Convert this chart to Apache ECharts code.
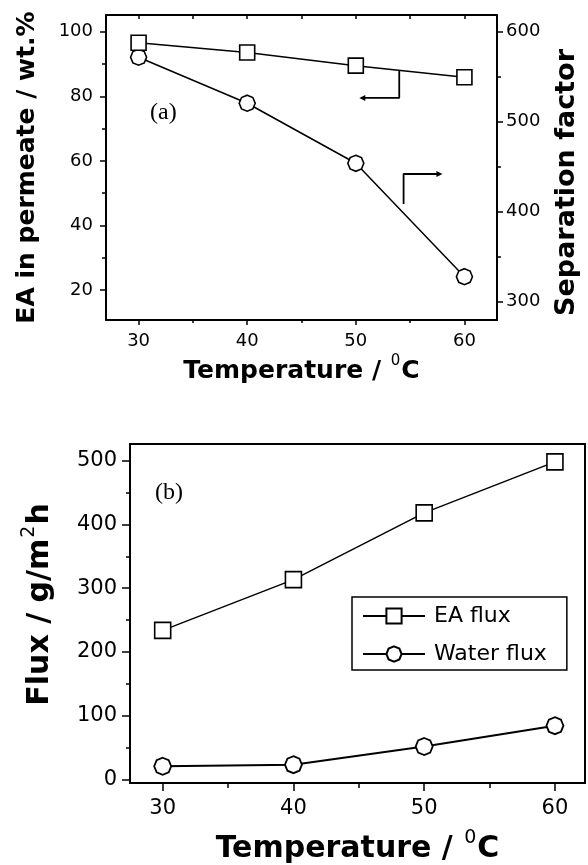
<!DOCTYPE html>
<html>
<head>
<meta charset="utf-8">
<script src="https://cdn.jsdelivr.net/npm/echarts@6/dist/echarts.min.js"></script>
<style>
  html, body { margin: 0; padding: 0; background: #fff; }
  #chart { width: 588px; height: 865px; }
</style>
</head>
<body>
<div id="chart"></div>
<script>
// Temperatures (°C) shared by both panels
const temperatures = [30, 40, 50, 60];

// Panel (a): EA content in permeate (wt.%) and separation factor
const eaPermeate = [96.6, 93.6, 89.5, 85.9];
const separationFactor = [571.6, 520.5, 453.8, 327.8];

// Panel (b): fluxes (g/m²h)
const eaFlux = [234, 313.5, 418, 498];
const waterFlux = [21, 23.5, 52, 84.6];

// Tick labels
const tempTicks = [30, 40, 50, 60];
const tempMinorTicks = [35, 45, 55];
const eaTicks = [20, 40, 60, 80, 100];
const eaMinorTicks = [30, 50, 70, 90];
const sepTicks = [300, 400, 500, 600];
const sepMinorTicks = [350, 450, 550];
const fluxTicks = [0, 100, 200, 300, 400, 500];
const fluxMinorTicks = [50, 150, 250, 350, 450];

// Axis-pointer arrows telling which axis each curve of panel (a) belongs to
const eaArrow = [[54, 88.1], [54, 79.5], [50.6, 79.5]];
const sepArrow = [[54.4, 408.6], [54.4, 441.9], [57.7, 441.9]];

const zip = (xs, ys) => xs.map((x, i) => [x, ys[i]]);

const FONT = 'DejaVu Sans';
const black = '#000';

// octagonal "diamond" marker
const octagon = 'path://M50,0 L85.4,14.6 L100,50 L85.4,85.4 L50,100 L14.6,85.4 L0,50 L14.6,14.6 Z';

function majorAxis(extra) {
  return Object.assign({
    type: 'value',
    splitLine: { show: false },
    axisLine: { show: true, onZero: false, lineStyle: { color: black, width: 2 } },
    axisTick: { show: true, inside: false, length: 6, lineStyle: { color: black, width: 1.5 } },
    axisLabel: { color: black, fontFamily: FONT }
  }, extra);
}
function minorAxis(extra, ticks, len) {
  return Object.assign({
    type: 'value',
    splitLine: { show: false },
    axisLine: { show: false, onZero: false },
    axisTick: { show: true, inside: false, length: len, customValues: ticks, lineStyle: { color: black, width: 1.5 } },
    axisLabel: { show: false }
  }, extra);
}

// bold title text with a small raised superscript
const titleRich = (size, sup) => ({
  a: { fontFamily: FONT, fontWeight: 'bold', fontSize: size, lineHeight: size + 10, color: black },
  s: { fontFamily: FONT, fontSize: sup, lineHeight: sup + 2, color: black, verticalAlign: 'top', padding: [0, 1, 0, 1] }
});

const chart = echarts.init(document.getElementById('chart'), null, { renderer: 'canvas' });

const option = {
  animation: false,
  backgroundColor: '#fff',
  grid: [
    { left: 106, top: 15, width: 397, height: 305, show: false },
    { left: 130, top: 444, width: 455, height: 339, show: true, borderColor: black, borderWidth: 2 }
  ],
  xAxis: [
    // panel (a) bottom
    majorAxis({
      gridIndex: 0, position: 'bottom', min: 27, max: 63,
      axisTick: { show: true, length: 5, customValues: tempTicks, lineStyle: { color: black, width: 1.5 } },
      axisLabel: { color: black, fontFamily: FONT, fontSize: 18, margin: 12, customValues: tempTicks },
      name: '{a|Temperature / }{s|0}{a|C}',
      nameLocation: 'middle', nameGap: 34,
      nameTextStyle: { rich: titleRich(25, 15) }
    }),
    minorAxis({ gridIndex: 0, position: 'bottom', min: 27, max: 63 }, tempMinorTicks, 3),
    // panel (a) top frame with inward ticks
    majorAxis({
      gridIndex: 0, position: 'top', min: 27, max: 63,
      axisTick: { show: true, inside: true, length: 4, customValues: tempTicks.concat(tempMinorTicks), lineStyle: { color: black, width: 1.5 } },
      axisLabel: { show: false }
    }),
    // panel (b) bottom
    majorAxis({
      gridIndex: 1, position: 'bottom', min: 27.5, max: 62.3,
      axisTick: { show: true, length: 8, customValues: tempTicks, lineStyle: { color: black, width: 1.5 } },
      axisLabel: { color: black, fontFamily: FONT, fontSize: 21, margin: 15, customValues: tempTicks },
      name: '{a|Temperature / }{s|0}{a|C}',
      nameLocation: 'middle', nameGap: 46,
      nameTextStyle: { rich: titleRich(30, 19) }
    }),
    minorAxis({ gridIndex: 1, position: 'bottom', min: 27.5, max: 62.3 }, tempMinorTicks, 5)
  ],
  yAxis: [
    // panel (a) left: EA in permeate
    majorAxis({
      gridIndex: 0, position: 'left', min: 10.7, max: 105.2,
      axisTick: { show: true, length: 6, customValues: eaTicks, lineStyle: { color: black, width: 1.5 } },
      axisLabel: { color: black, fontFamily: FONT, fontSize: 18, margin: 13, customValues: eaTicks },
      name: 'EA in permeate / wt.%',
      nameLocation: 'middle', nameGap: 66,
      nameTextStyle: { fontFamily: FONT, fontWeight: 'bold', fontSize: 25, color: black }
    }),
    minorAxis({ gridIndex: 0, position: 'left', min: 10.7, max: 105.2 }, eaMinorTicks, 4),
    // panel (a) right: separation factor
    majorAxis({
      gridIndex: 0, position: 'right', min: 279.7, max: 618.5,
      axisTick: { show: true, length: 6, customValues: sepTicks, lineStyle: { color: black, width: 1.5 } },
      axisLabel: { color: black, fontFamily: FONT, fontSize: 18, margin: 9, customValues: sepTicks },
      name: 'Separation factor',
      nameLocation: 'middle', nameGap: 56,
      nameTextStyle: { fontFamily: FONT, fontWeight: 'bold', fontSize: 27, color: black, padding: [0, 30, 0, 0] }
    }),
    minorAxis({ gridIndex: 0, position: 'right', min: 279.7, max: 618.5 }, sepMinorTicks, 4),
    // panel (b) left: flux
    majorAxis({
      gridIndex: 1, position: 'left', min: -5.2, max: 526,
      axisTick: { show: true, length: 8, customValues: fluxTicks, lineStyle: { color: black, width: 1.5 } },
      axisLabel: { color: black, fontFamily: FONT, fontSize: 21, margin: 13, customValues: fluxTicks },
      name: '{a|Flux / g/m}{s|2}{a|h}',
      nameLocation: 'middle', nameGap: 70,
      nameTextStyle: { rich: titleRich(30, 19), padding: [0, 0, 0, 18] }
    }),
    minorAxis({ gridIndex: 1, position: 'left', min: -5.2, max: 526 }, fluxMinorTicks, 4)
  ],
  legend: {
    data: ['EA flux', 'Water flux'],
    orient: 'vertical',
    left: 352, top: 597,
    itemWidth: 62, itemHeight: 19, itemGap: 16,
    padding: [8, 20, 5, 10],
    borderColor: black, borderWidth: 1.5, borderRadius: 0,
    selectedMode: false,
    textStyle: { color: black, fontFamily: FONT, fontSize: 22, padding: [0, 0, 0, 4] }
  },
  graphic: [
    { type: 'text', left: 150, top: 101, style: { text: '(a)', font: '24px "Liberation Serif"', fill: black } },
    { type: 'text', left: 155, top: 481, style: { text: '(b)', font: '24px "Liberation Serif"', fill: black } }
  ],
  series: [
    {
      name: 'EA in permeate', type: 'line', xAxisIndex: 0, yAxisIndex: 0,
      data: zip(temperatures, eaPermeate),
      symbol: 'rect', symbolSize: 15,
      itemStyle: { color: '#fff', borderColor: black, borderWidth: 1.6 },
      lineStyle: { color: black, width: 1.5 },
      z: 3
    },
    {
      name: 'Separation factor', type: 'line', xAxisIndex: 0, yAxisIndex: 2,
      data: zip(temperatures, separationFactor),
      symbol: octagon, symbolSize: 16,
      itemStyle: { color: '#fff', borderColor: black, borderWidth: 1.6 },
      lineStyle: { color: black, width: 1.5 },
      z: 2
    },
    {
      name: 'EA arrow', type: 'line', xAxisIndex: 0, yAxisIndex: 0,
      data: eaArrow, showSymbol: false, silent: true,
      lineStyle: { color: black, width: 1.8 },
      markPoint: {
        symbol: 'triangle', symbolSize: [6, 6], symbolRotate: 90,
        itemStyle: { color: black }, label: { show: false },
        data: [{ coord: eaArrow[2] }]
      }
    },
    {
      name: 'Separation arrow', type: 'line', xAxisIndex: 0, yAxisIndex: 2,
      data: sepArrow, showSymbol: false, silent: true,
      lineStyle: { color: black, width: 1.8 },
      markPoint: {
        symbol: 'triangle', symbolSize: [6, 6], symbolRotate: -90,
        itemStyle: { color: black }, label: { show: false },
        data: [{ coord: sepArrow[2] }]
      }
    },
    {
      name: 'EA flux', type: 'line', xAxisIndex: 3, yAxisIndex: 4,
      data: zip(temperatures, eaFlux),
      symbol: 'rect', symbolSize: 16,
      itemStyle: { color: '#fff', borderColor: black, borderWidth: 1.6 },
      lineStyle: { color: black, width: 1.5 }
    },
    {
      name: 'Water flux', type: 'line', xAxisIndex: 3, yAxisIndex: 4,
      data: zip(temperatures, waterFlux),
      symbol: octagon, symbolSize: 17,
      itemStyle: { color: '#fff', borderColor: black, borderWidth: 1.8 },
      lineStyle: { color: black, width: 2 }
    }
  ]
};

chart.setOption(option);
</script>
</body>
</html>
